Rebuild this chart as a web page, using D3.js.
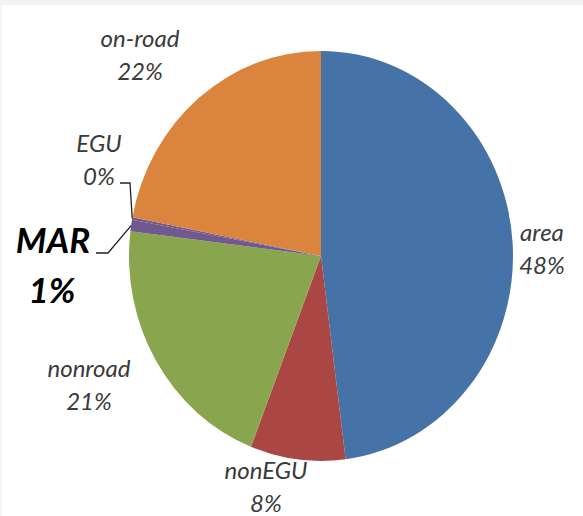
<!DOCTYPE html>
<html>
<head>
<meta charset="utf-8">
<script src="https://cdn.jsdelivr.net/npm/d3@7"></script>
<style>
  html, body { margin: 0; padding: 0; background: #fff; }
  svg { display: block; }
</style>
</head>
<body>
<div id="pie_chart"></div>
<script>
// sector names and their shares, clockwise from 12 o'clock
const categories = ["area", "nonEGU", "nonroad", "MAR", "EGU", "on-road"];
const shares = [48, 8, 21, 0.9, 0.2, 22];
const colors = ["#4572a7", "#aa4643", "#89a54e", "#71588f", "#71588f", "#db843d"];

/**
 * set the dimensions of the graph
 * @return {Object} the dimensions of the graph
 */
function graphDimensions() {
    return {width: 583, height: 516, cx: 321, cy: 256, rx: 192, ry: 205};
}

/**
 * Appends svg to the dom, with the light frame at the top and left.
 */
function appendToDom(dim) {
    const svg = d3.select("#pie_chart").append("svg")
        .attr("width", dim.width)
        .attr("height", dim.height);
    svg.append("rect").attr("width", dim.width).attr("height", dim.height).attr("fill", "#f3f3f3");
    svg.append("rect").attr("x", 2).attr("y", 5)
        .attr("width", dim.width - 2).attr("height", dim.height - 5).attr("fill", "#fff");
    return svg;
}

/**
 * Point on the (slightly stretched) pie edge at a given angle.
 */
function edgePoint(dim, angle, k) {
    return [dim.cx + dim.rx * k * Math.sin(angle), dim.cy - dim.ry * k * Math.cos(angle)];
}

function drawSlices(svg, dim, arcs) {
    const arc = d3.arc().innerRadius(0).outerRadius(dim.rx);
    svg.append("g")
        .attr("transform", "translate(" + dim.cx + "," + dim.cy + ") scale(1," + (dim.ry / dim.rx) + ")")
        .selectAll("path")
        .data(arcs)
        .enter()
        .append("path")
          .attr("fill", (d, i) => colors[i])
          .attr("d", arc);
}

/**
 * two-line labels: name on top, percent below
 */
function drawLabels(svg, dim, arcs) {
    const total = d3.sum(shares);
    const pct = d3.format(".0%");
    // label centres (layout only)
    const spots = {
        "area":    {x: 542, y: 233},
        "nonEGU":  {x: 266, y: 471},
        "nonroad": {x: 89,  y: 369},
        "MAR":     {x: 53,  y: 241, big: true},
        "EGU":     {x: 99,  y: 144},
        "on-road": {x: 140, y: 39}
    };
    arcs.forEach((d, i) => {
        const name = categories[i];
        const s = spots[name];
        const t = svg.append("text")
            .attr("text-anchor", "middle")
            .attr("font-family", "Lato, 'Open Sans', sans-serif")
            .attr("font-style", "italic")
            .attr("font-weight", s.big ? "bold" : "normal")
            .attr("font-size", s.big ? 35 : 24)
            .attr("fill", s.big ? "#000" : "#3a3a3a");
        const gap = s.big ? 50 : 33;
        t.append("tspan").attr("x", s.x).attr("y", s.y + (s.big ? 12 : 8)).text(name);
        t.append("tspan").attr("x", s.big ? s.x - 1 : s.x).attr("y", s.y + (s.big ? 12 : 8) + gap)
            .text(pct(shares[i] / total));
    });
}

/**
 * leader lines for the two tiny slices
 */
function drawLeaders(svg, dim, arcs) {
    const mar = arcs[categories.indexOf("MAR")];
    const egu = arcs[categories.indexOf("EGU")];
    const pm = edgePoint(dim, (mar.startAngle + mar.endAngle) / 2, 1);
    const pe = edgePoint(dim, (egu.startAngle + egu.endAngle) / 2, 1);
    const line = d3.line();
    svg.append("path")
        .attr("d", line([[96, 253], [108, 253], pm]))
        .attr("fill", "none").attr("stroke", "#222").attr("stroke-width", 1.3);
    svg.append("path")
        .attr("d", line([[120, 183], [130, 183], pe]))
        .attr("fill", "none").attr("stroke", "#222").attr("stroke-width", 1.3);
}

function drawGraph() {
    const dim = graphDimensions();
    const svg = appendToDom(dim);
    const arcs = d3.pie().sort(null).value(d => d)(shares);
    drawSlices(svg, dim, arcs);
    drawLeaders(svg, dim, arcs);
    drawLabels(svg, dim, arcs);
}

drawGraph();
</script>
</body>
</html>
